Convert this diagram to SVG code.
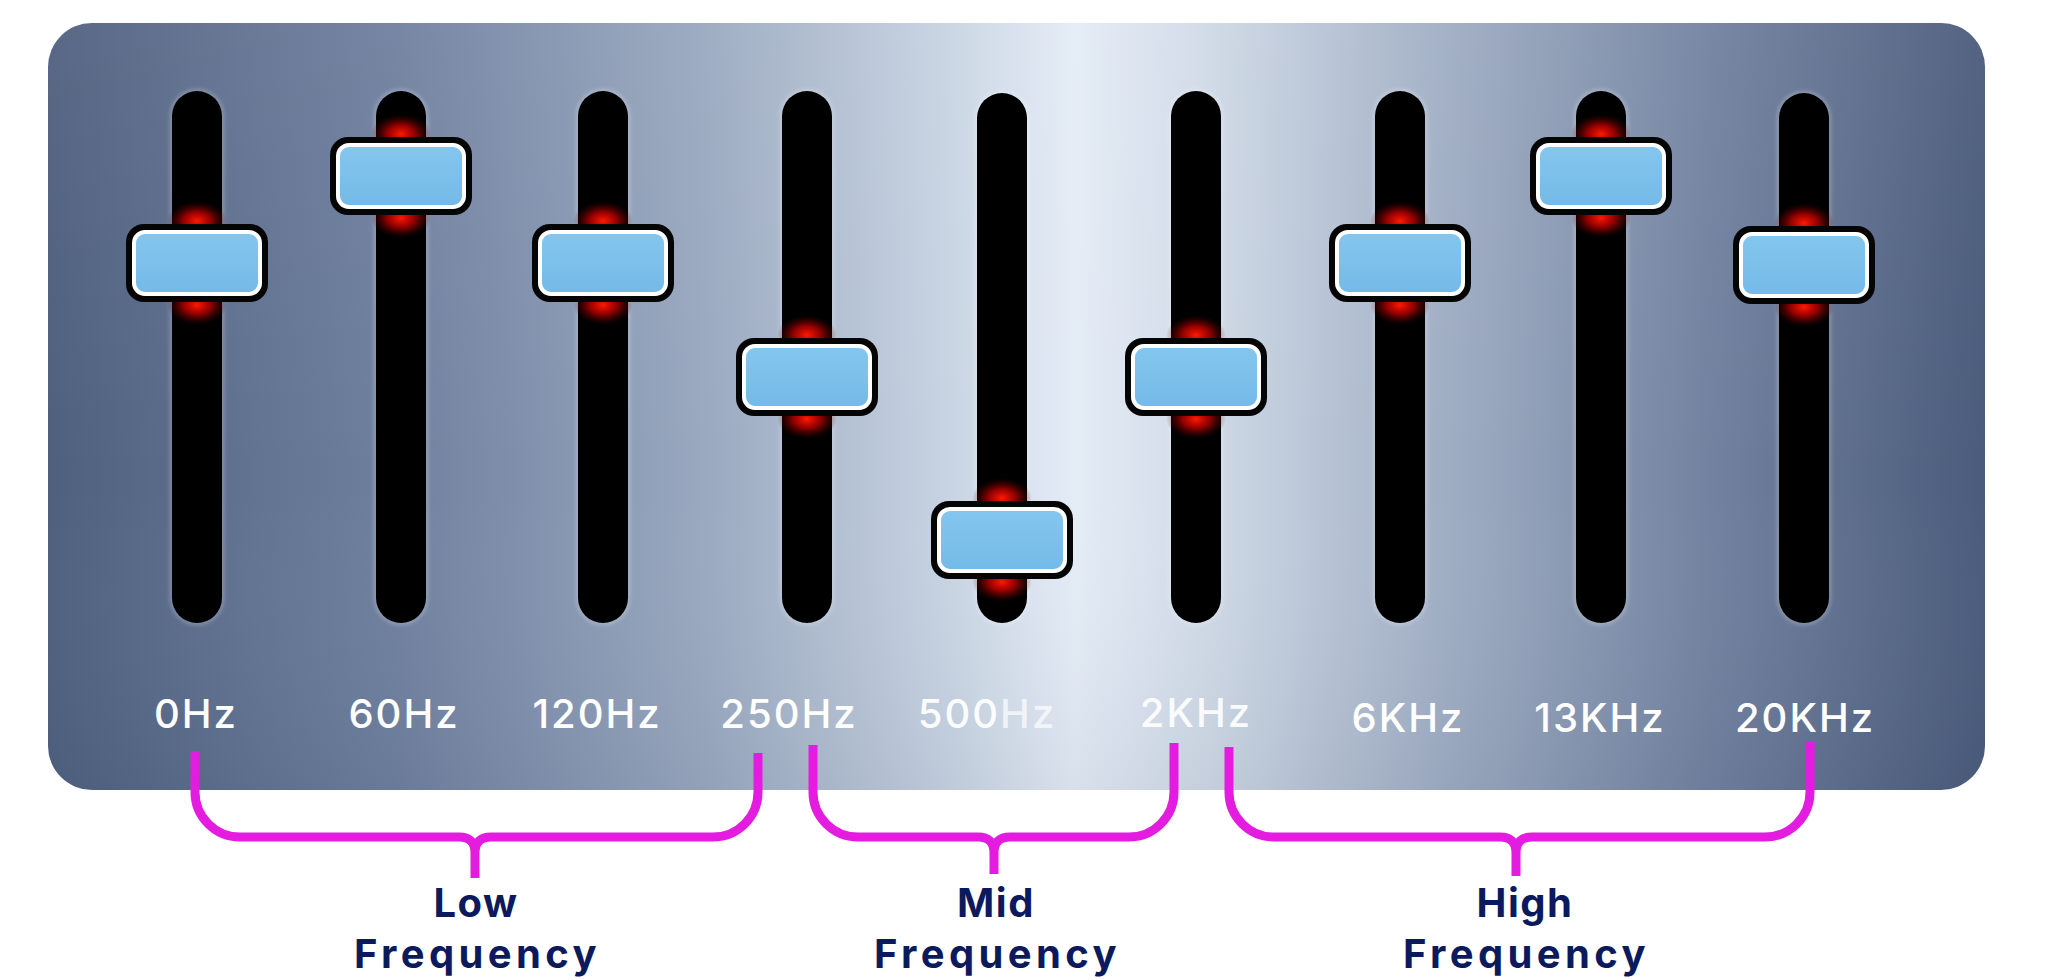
<svg xmlns="http://www.w3.org/2000/svg" width="2048" height="980" viewBox="0 0 2048 980">
  <defs>
    <linearGradient id="panelGrad" x1="0" y1="0" x2="1" y2="0">
      <stop offset="0" stop-color="#4f607f"/>
      <stop offset="0.18" stop-color="#6f809f"/>
      <stop offset="0.34" stop-color="#9aa9c0"/>
      <stop offset="0.46" stop-color="#c6d2e1"/>
      <stop offset="0.53" stop-color="#e4ecf6"/>
      <stop offset="0.6" stop-color="#cfd9e6"/>
      <stop offset="0.72" stop-color="#a0aec4"/>
      <stop offset="0.86" stop-color="#71819f"/>
      <stop offset="1" stop-color="#4a5b7b"/>
    </linearGradient>
    <linearGradient id="shade" x1="0" y1="0" x2="0" y2="1">
      <stop offset="0" stop-color="#ffffff" stop-opacity="0.05"/>
      <stop offset="0.6" stop-color="#ffffff" stop-opacity="0"/>
      <stop offset="1" stop-color="#1a2440" stop-opacity="0.06"/>
    </linearGradient>
    <linearGradient id="knobBlue" x1="0" y1="0" x2="0" y2="1">
      <stop offset="0" stop-color="#84c6ee"/>
      <stop offset="1" stop-color="#74bae8"/>
    </linearGradient>
    <radialGradient id="redGlow">
      <stop offset="0" stop-color="#ff1a00" stop-opacity="1"/>
      <stop offset="0.45" stop-color="#c80000" stop-opacity="0.75"/>
      <stop offset="1" stop-color="#500000" stop-opacity="0"/>
    </radialGradient>
    <filter id="halo" x="-50%" y="-10%" width="200%" height="120%">
      <feGaussianBlur stdDeviation="2"/>
    </filter>
    <g id="knob">
      <ellipse cx="0" cy="-42" rx="30" ry="20" fill="url(#redGlow)"/>
      <ellipse cx="0" cy="42" rx="30" ry="20" fill="url(#redGlow)"/>
      <rect x="-71" y="-39" width="142" height="78" rx="18" fill="#050505"/>
      <rect x="-63" y="-31" width="126" height="62" rx="11" fill="url(#knobBlue)" stroke="#ffffff" stroke-width="4"/>
    </g>
  </defs>
  <style>
    .track { fill: #000000; }
    .trackHalo { fill: none; stroke: #ffffff; stroke-opacity: 0.35; stroke-width: 3; }
    .freq { font-family: Inter, "Liberation Sans", sans-serif; font-size: 40px; font-weight: 500; fill: #ffffff; text-anchor: middle; letter-spacing: 2px; }
    .band { font-family: Inter, "Liberation Sans", sans-serif; font-size: 40px; font-weight: 700; fill: #0b1a5c; text-anchor: middle; letter-spacing: 1.5px; }
    .brace { fill: none; stroke: #e41ce0; stroke-width: 9; stroke-linecap: butt; stroke-linejoin: round; }
  </style>

  <rect x="0" y="0" width="2048" height="980" fill="#ffffff"/>

  <g id="panel">
    <rect x="48" y="23" width="1937" height="767" rx="44" fill="url(#panelGrad)"/>
    <rect x="48" y="23" width="1937" height="767" rx="44" fill="url(#shade)"/>
  </g>

  <g id="slider-0Hz">
    <rect class="trackHalo" x="172" y="91" width="50" height="532" rx="25" filter="url(#halo)"/>
    <rect class="track" x="172" y="91" width="50" height="532" rx="25"/>
    <use href="#knob" x="197" y="263"/>
    <text class="freq" x="196" y="728">0Hz</text>
  </g>
  <g id="slider-60Hz">
    <rect class="trackHalo" x="376" y="91" width="50" height="532" rx="25" filter="url(#halo)"/>
    <rect class="track" x="376" y="91" width="50" height="532" rx="25"/>
    <use href="#knob" x="401" y="176"/>
    <text class="freq" x="404" y="728">60Hz</text>
  </g>
  <g id="slider-120Hz">
    <rect class="trackHalo" x="578" y="91" width="50" height="532" rx="25" filter="url(#halo)"/>
    <rect class="track" x="578" y="91" width="50" height="532" rx="25"/>
    <use href="#knob" x="603" y="263"/>
    <text class="freq" x="597" y="728">120Hz</text>
  </g>
  <g id="slider-250Hz">
    <rect class="trackHalo" x="782" y="91" width="50" height="532" rx="25" filter="url(#halo)"/>
    <rect class="track" x="782" y="91" width="50" height="532" rx="25"/>
    <use href="#knob" x="807" y="377"/>
    <text class="freq" x="789" y="728">250Hz</text>
  </g>
  <g id="slider-500Hz">
    <rect class="trackHalo" x="977" y="93" width="50" height="530" rx="25" filter="url(#halo)"/>
    <rect class="track" x="977" y="93" width="50" height="530" rx="25"/>
    <use href="#knob" x="1002" y="540"/>
    <text class="freq" x="987" y="728"><tspan fill-opacity="0.95">500</tspan><tspan fill-opacity="0.7">Hz</tspan></text>
  </g>
  <g id="slider-2KHz">
    <rect class="trackHalo" x="1171" y="91" width="50" height="532" rx="25" filter="url(#halo)"/>
    <rect class="track" x="1171" y="91" width="50" height="532" rx="25"/>
    <use href="#knob" x="1196" y="377"/>
    <text class="freq" x="1196" y="727" fill-opacity="0.92">2KHz</text>
  </g>
  <g id="slider-6KHz">
    <rect class="trackHalo" x="1375" y="91" width="50" height="532" rx="25" filter="url(#halo)"/>
    <rect class="track" x="1375" y="91" width="50" height="532" rx="25"/>
    <use href="#knob" x="1400" y="263"/>
    <text class="freq" x="1408" y="732">6KHz</text>
  </g>
  <g id="slider-13KHz">
    <rect class="trackHalo" x="1576" y="91" width="50" height="532" rx="25" filter="url(#halo)"/>
    <rect class="track" x="1576" y="91" width="50" height="532" rx="25"/>
    <use href="#knob" x="1601" y="176"/>
    <text class="freq" x="1600" y="732">13KHz</text>
  </g>
  <g id="slider-20KHz">
    <rect class="trackHalo" x="1779" y="93" width="50" height="530" rx="25" filter="url(#halo)"/>
    <rect class="track" x="1779" y="93" width="50" height="530" rx="25"/>
    <use href="#knob" x="1804" y="265"/>
    <text class="freq" x="1805" y="732">20KHz</text>
  </g>

  <g id="connectors">
    <path class="brace" d="M195,751 V792 A45,45 0 0 0 240,837 H459 Q475,837 475,853 V878 M475,853 Q475,837 491,837 H713 A45,45 0 0 0 758,792 V753"/>
    <path class="brace" d="M813,745 V792 A45,45 0 0 0 858,837 H978 Q994,837 994,853 V874 M994,853 Q994,837 1010,837 H1129 A45,45 0 0 0 1174,792 V743"/>
    <path class="brace" d="M1229,747 V792 A45,45 0 0 0 1274,837 H1500 Q1516,837 1516,853 V876 M1516,853 Q1516,837 1532,837 H1765 A45,45 0 0 0 1810,792 V742"/>
  </g>

  <g id="band-low">
    <text class="band" x="476" y="917">Low</text>
    <text class="band" x="476" y="968" textLength="244" lengthAdjust="spacing">Frequency</text>
  </g>
  <g id="band-mid">
    <text class="band" x="996" y="917">Mid</text>
    <text class="band" x="996" y="968" textLength="244" lengthAdjust="spacing">Frequency</text>
  </g>
  <g id="band-high">
    <text class="band" x="1525" y="917">High</text>
    <text class="band" x="1525" y="968" textLength="244" lengthAdjust="spacing">Frequency</text>
  </g>
</svg>
